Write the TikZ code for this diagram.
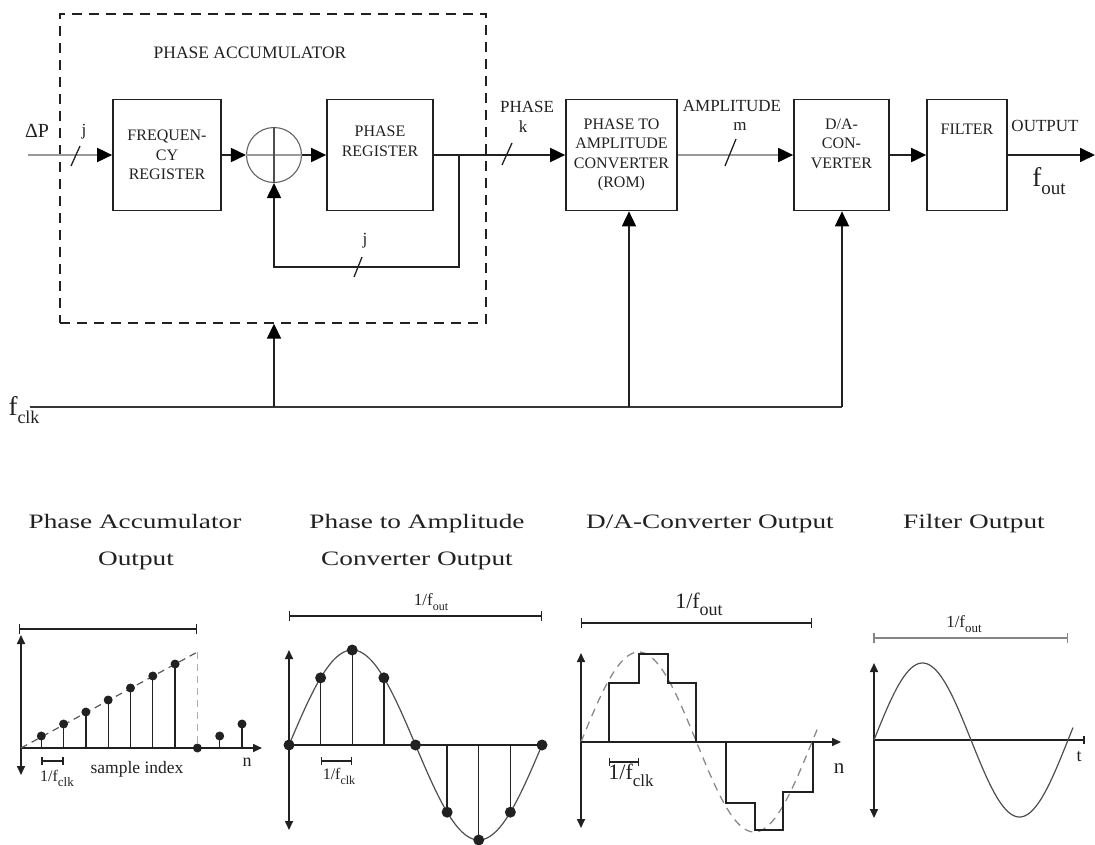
\documentclass[tikz,border=0pt]{standalone}
\usepackage{fontspec}
\setmainfont{Liberation Serif}
\newfontfamily\widefont[FakeStretch=1.33]{Liberation Serif}
\usetikzlibrary{arrows.meta,calc}
\newcommand\fsz[1]{\fontsize{#1}{#1}\selectfont}
\newcommand\fsub[4]{{\fsz{#1}#3\raisebox{-0.32em}{\fsz{#2}#4}}}
\definecolor{ink}{gray}{0.13}
\definecolor{lgray}{gray}{0.6}
\begin{document}
\begin{tikzpicture}[x=1pt,y=-1pt,
  blk/.style={draw=ink, line width=1.7pt, minimum height=111pt, align=center, inner sep=0pt,
     font=\fontsize{16}{19.5}\selectfont, text=ink},
  conn/.style={draw=ink, line width=1.8pt},
  grayconn/.style={draw=lgray, line width=1.8pt},
  arr/.style={-{Triangle[length=15pt,width=14pt,color=black]}},
  lbl/.style={text=ink, inner sep=0pt, font=\fsz{17}},
  slash/.style={draw=ink, line width=1.3pt},
  ttl/.style={text=ink, inner sep=0pt, anchor=base, font=\widefont\fsz{20.5}},
  ax/.style={draw=ink, line width=1.6pt},
  dax/.style={ax, {Triangle[length=9pt,width=8pt]}-{Triangle[length=9pt,width=8pt]}},
  xax/.style={ax, -{Triangle[length=9pt,width=8pt]}},
  per/.style={draw=ink, line width=1.5pt, {Bar[width=10pt,line width=1.3pt]}-{Bar[width=10pt,line width=1.3pt]}},
  cper/.style={draw=ink, line width=1.3pt, {Bar[width=8pt,line width=1.2pt]}-{Bar[width=8pt,line width=1.2pt]}},
  stem/.style={draw=ink, line width=1.3pt},
  sine/.style={draw=ink!80, line width=1.2pt},
]
\useasboundingbox (0,0) rectangle (1095,844);

% ---------- block diagram ----------
\node[draw=ink, line width=1.4pt, dash pattern=on 10pt off 7pt, minimum width=426pt, minimum height=309pt, inner sep=0pt] (acc) at (273,168.5) {};
\node[lbl, font=\fsz{17.5}] (acclbl) at (250,53) {PHASE ACCUMULATOR};

\node[blk, minimum width=108pt] (freq) at (167,155) {FREQUEN-\\CY\\REGISTER};
\node[circle, draw=ink!70, line width=1.1pt, minimum size=55pt, inner sep=0pt] (add) at (274,155) {};
\draw[draw=lgray, line width=1.3pt] (add.west) -- (add.east);
\draw[draw=ink!80, line width=1.1pt] (add.north) -- (add.south);
\node[blk, minimum width=106pt] (preg) at (380,155) {PHASE\\REGISTER\\[8pt]};
\node[blk, minimum width=111pt] (pta) at (621.5,155) {PHASE TO\\AMPLITUDE\\CONVERTER\\(ROM)};
\node[blk, minimum width=95pt] (da) at (841.5,155) {D/A-\\CON-\\VERTER\\[4pt]};
\node[blk, minimum width=80pt] (filt) at (967,155) {FILTER\\[32pt]};

\coordinate (din) at (28,155);
\coordinate (dout) at (1095,155);
\coordinate (fb) at (459,155);
\coordinate (fb1) at (459,267);
\coordinate (fb2) at (274,267);

\node[lbl, font=\fsz{20}] (dp) at (37,131) {ΔP};
\node[lbl] (j1) at (84,132) {j};
\node[lbl] (j2) at (365,241) {j};
\node[lbl] (phl) at (527,107) {PHASE};
\node[lbl] (kl) at (523,127) {k};
\node[lbl] (ampl) at (732,106) {AMPLITUDE};
\node[lbl] (ml) at (740,126) {m};
\node[lbl] (outl) at (1045,126) {OUTPUT};
\node[text=ink, inner sep=0pt] (foutl) at (1049,181) {\fsub{27}{19}{f}{out}};

\draw[grayconn, arr] (din) -- (freq.west);
\draw[conn, arr] (freq.east) -- (add.west);
\draw[conn, arr] (add.east) -- (preg.west);
\draw[conn, arr] (preg.east) -- (pta.west);
\draw[conn, arr] (fb) -- (fb1) -- (fb2) -- (add.south);
\draw[grayconn, arr] (pta.east) -- (da.west);
\draw[conn, arr] (da.east) -- (filt.west);
\draw[conn, arr] (filt.east) -- (dout);

\draw[slash] (71,166) -- (80,146);
\draw[slash] (354,277) -- (362,257);
\draw[slash] (502,165) -- (512,143);
\draw[slash] (725,166) -- (736,139);

% clock
\coordinate (clk) at (30,407);
\coordinate (c1) at (274,407);
\coordinate (c2) at (629,407);
\coordinate (c3) at (842,407);
\node[text=ink, inner sep=0pt] (fclk) at (24,410) {\fsub{27}{18}{f}{clk}};
\draw[draw=ink!90, line width=2.2pt] (clk) -- (c3);
\draw[conn, arr] (c1) -- (c1 |- acc.south);
\draw[conn, arr] (c2) -- (c2 |- pta.south);
\draw[conn, arr] (c3) -- (c3 |- da.south);

% ---------- titles ----------
\node[ttl] (t1a) at (135,528) {Phase Accumulator};
\node[ttl] (t1b) at (136,565) {Output};
\node[ttl] (t2a) at (417,528) {Phase to Amplitude};
\node[ttl] (t2b) at (417,565) {Converter Output};
\node[ttl] (t3a) at (710,528) {D/A-Converter Output};
\node[ttl] (t4a) at (974,528) {Filter Output};

% ---------- panel 1 ----------
\draw[per] (19,629) -- (197.4,629);
\draw[dax] (21,635) -- (21,775);
\draw[xax] (21,748) -- (262,748);
\draw[draw=ink!75, line width=1.2pt, dash pattern=on 7pt off 5pt] (21,748) -- (197.4,652);
\draw[draw=lgray!80, line width=1.6pt, dash pattern=on 7pt off 5pt] (197.4,652) -- (197.4,748);
\foreach \k in {1,...,7} {
  \draw[stem] ({19+22.3*\k},748) -- ({19+22.3*\k},{748-12*\k});
  \fill[ink] ({19+22.3*\k},{748-12*\k}) circle[radius=4.5pt];
}
\fill[ink] (197.4,748) circle[radius=4.5pt];
\foreach \k/\h in {9/12,10/24} {
  \draw[stem] ({19+22.3*\k},748) -- ({19+22.3*\k},{748-\h});
  \fill[ink] ({19+22.3*\k},{748-\h}) circle[radius=4.5pt];
}
\draw[cper] (41.3,761) -- (63.6,761);
\node[text=ink, inner sep=0pt] (p1clk) at (57,778) {\fsub{16}{13}{1/f}{clk}};
\node[lbl, font=\fsz{17.5}] (sidx) at (137,769) {sample index};
\node[lbl, font=\fsz{18}] (n1) at (247,762) {n};

% ---------- panel 2 ----------
\draw[per] (289,616) -- (542,616);
\node[text=ink, inner sep=0pt] (p2out) at (431,602) {\fsub{17}{12}{1/f}{out}};
\draw[dax] (289,650) -- (289,830);
\draw[ax] (289,745) -- (542,745);
\draw[sine] plot[domain=0:253, samples=121] ({289+\x},{745-95*sin(\x/253*360)});
\foreach \k in {1,...,7} {
  \draw[stem] ({289+31.625*\k},745) -- ({289+31.625*\k},{745-95*sin(45*\k)});
}
\foreach \k in {0,...,8} {
  \fill[ink] ({289+31.625*\k},{745-95*sin(45*\k)}) circle[radius=5.5pt];
}
\draw[cper] (320.6,761) -- (352.25,761);
\node[text=ink, inner sep=0pt] (p2clk) at (339,776) {\fsub{16}{12}{1/f}{clk}};

% ---------- panel 3 ----------
\draw[per] (581,623) -- (812,623);
\node[text=ink, inner sep=0pt] (p3out) at (699,604) {\fsub{22}{18}{1/f}{out}};
\draw[dax] (581,653) -- (581,828);
\draw[xax] (581,742) -- (841,742);
\draw[draw=lgray!90!black, line width=1.3pt, dash pattern=on 8pt off 6pt] plot[domain=0:238, samples=121] ({581+\x},{742-90*sin(\x/231*360)});
\draw[draw=ink, line width=1.5pt] (581,742) -- (609,742) -- (609,683) -- (639,683) -- (639,654) -- (668,654) -- (668,683) -- (696,683) -- (696,742) -- (726,742) -- (726,803) -- (755,803) -- (755,830) -- (783,830) -- (783,792) -- (813,792) -- (813,742);
\draw[cper] (609,762) -- (639,762);
\node[text=ink, inner sep=0pt] (p3clk) at (631,775) {\fsub{22}{17}{1/f}{clk}};
\node[lbl, font=\fsz{21}] (n3) at (839,769) {n};

% ---------- panel 4 ----------
\draw[draw=ink!55, line width=1.5pt, {Bar[width=10pt]}-{Bar[width=10pt]}] (873,638) -- (1068,638);
\node[text=ink, inner sep=0pt] (p4out) at (964,624) {\fsub{17}{13}{1/f}{out}};
\draw[dax] (874,663) -- (874,818);
\draw[ax, -{Bar[width=8pt]}] (874,740) -- (1085,740);
\draw[sine] plot[domain=0:199, samples=121] ({874+\x},{740-77*sin(\x/194*360)});
\node[lbl, font=\fsz{18}] (tl) at (1079,757) {t};
\end{tikzpicture}
\end{document}
